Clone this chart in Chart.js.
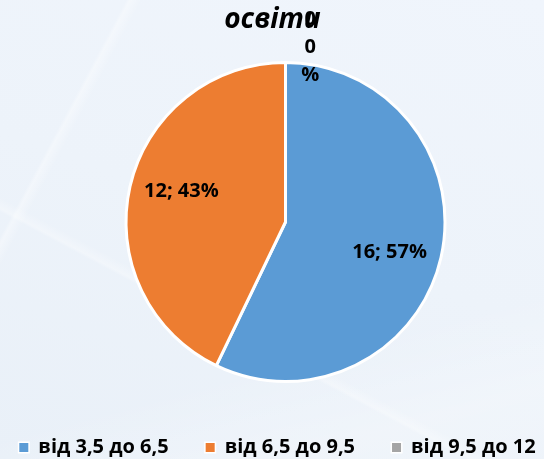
<!DOCTYPE html>
<html>
<head>
<meta charset="utf-8">
<script src="https://cdn.jsdelivr.net/npm/chart.js@4.4.1/dist/chart.umd.min.js"></script>
<style>
  html, body { margin: 0; padding: 0; }
  body {
    width: 544px; height: 459px; overflow: hidden;
    background:
      linear-gradient(118deg, rgba(255,255,255,0) 0 16%, rgba(255,255,255,0.35) 16.5%, rgba(255,255,255,0) 18%),
      linear-gradient(28deg, rgba(255,255,255,0) 0 33%, rgba(255,255,255,0.3) 33.5%, rgba(255,255,255,0) 35%),
      linear-gradient(165deg, rgba(255,255,255,0) 0 72%, rgba(255,255,255,0.25) 88%, rgba(255,255,255,0.15) 100%),
      linear-gradient(200deg, #f0f5fc 0%, #edf3fa 50%, #e9f0f8 100%);
  }
  #wrap { position: relative; width: 544px; height: 459px; }
</style>
</head>
<body>
<div id="wrap"><canvas id="chart"></canvas></div>
<script>
const categories = ["від 3,5 до 6,5", "від 6,5 до 9,5", "від 9,5 до 12"];
const values = [16, 12, 0];
const colors = ["#5B9BD5", "#ED7D31", "#A5A5A5"];
const titleText = "освіти";

const FONT = "'Open Sans', 'Noto Sans', sans-serif";

function percents() {
    const total = values.reduce((a, b) => a + b, 0);
    return values.map(v => Math.round(v / total * 100));
}

// title, data labels and legend drawn on top of the pie
const overlay = {
    id: "overlay",
    afterDraw(chart) {
        const ctx = chart.ctx;
        const arcs = chart.getDatasetMeta(0).data;
        const pct = percents();
        ctx.save();
        ctx.fillStyle = "#000";

        // title
        ctx.font = "italic bold 28px " + FONT;
        ctx.textAlign = "center";
        ctx.textBaseline = "alphabetic";
        ctx.fillText(titleText, 272.5, 28);

        // data labels
        ctx.font = "bold 20px " + FONT;
        ctx.textBaseline = "middle";
        arcs.forEach((arc, i) => {
            const { x, y, startAngle, endAngle, outerRadius } = arc.getProps(["x", "y", "startAngle", "endAngle", "outerRadius"], true);
            if (values[i] === 0) {
                const lx = x + outerRadius * 0.155;
                [String(values[i]), String(pct[i]), "%"].forEach((t, k) => {
                    ctx.fillText(t, lx, y - outerRadius * 1.27 + k * 28);
                });
                return;
            }
            const a = (startAngle + endAngle) / 2 + 3.5 * Math.PI / 180;
            const r = outerRadius * 0.68;
            ctx.fillText(values[i] + "; " + pct[i] + "%", x + Math.cos(a) * r, y + Math.sin(a) * r);
        });

        // legend
        ctx.font = "bold 20px " + FONT;
        ctx.textAlign = "left";
        const box = 9, gapIn = 10, gapOut = 37, ly = 447.5;
        const widths = categories.map(c => box + gapIn + ctx.measureText(c).width);
        const total = widths.reduce((a, b) => a + b, 0) + gapOut * (categories.length - 1);
        let cx = 277.5 - total / 2;
        categories.forEach((c, i) => {
            ctx.fillStyle = "#fff";
            ctx.fillRect(cx - 1.5, ly - box / 2 - 1.5, box + 3, box + 3);
            ctx.fillStyle = colors[i];
            ctx.fillRect(cx, ly - box / 2, box, box);
            ctx.fillStyle = "#000";
            ctx.fillText(c, cx + box + gapIn, ly);
            cx += widths[i] + gapOut;
        });
        ctx.restore();
    }
};

const chart = new Chart(document.getElementById("chart"), {
    type: "pie",
    data: {
        labels: categories,
        datasets: [{
            data: values,
            backgroundColor: colors,
            borderColor: "#fff",
            borderWidth: 3,
            radius: 159.5
        }]
    },
    options: {
        responsive: true,
        maintainAspectRatio: false,
        animation: false,
        layout: { padding: { top: 40, bottom: 55, left: 27, right: 0 } },
        plugins: {
            legend: { display: false },
            title: { display: false },
            tooltip: { enabled: false }
        }
    },
    plugins: [overlay]
});
</script>
</body>
</html>
